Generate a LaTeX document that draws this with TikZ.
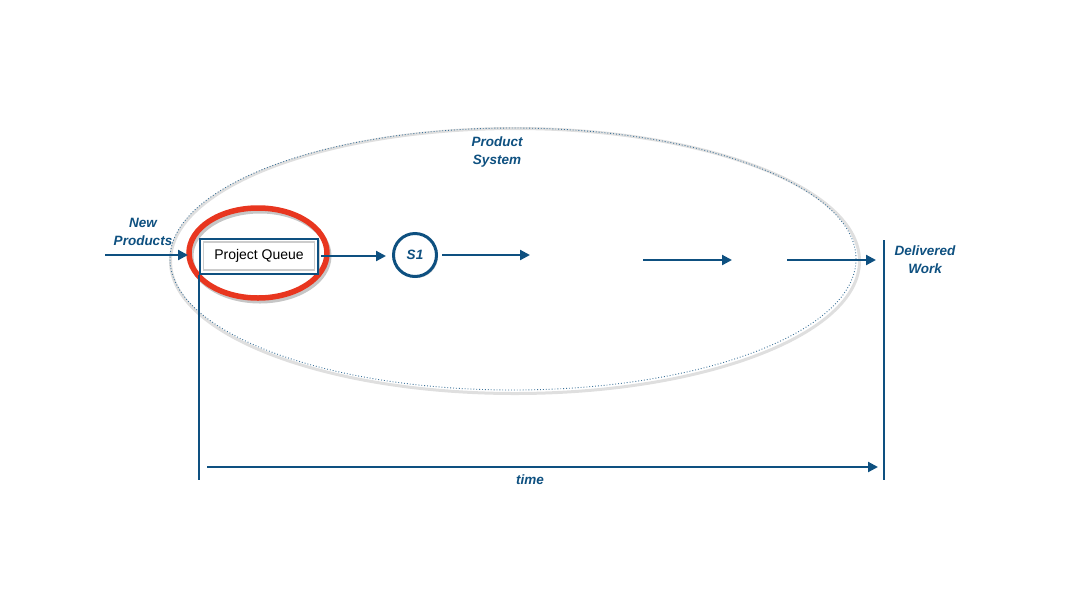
\documentclass[tikz,border=0pt]{standalone}
\usepackage{fontspec}
\setmainfont{Liberation Sans}
\usetikzlibrary{arrows.meta,shapes.geometric,shadows}
\definecolor{dblue}{HTML}{0E5080}
\definecolor{redring}{HTML}{E8361F}
\tikzset{
  flow/.style={draw=dblue, line width=2.2pt, -{Triangle[length=10pt,width=10pt]}},
  vline/.style={draw=dblue, line width=2.2pt},
  lbl/.style={text=dblue, font=\fontsize{13.5}{18}\selectfont\bfseries\itshape, align=center, inner sep=0pt},
  shd/.style={drop shadow={opacity=0.35, shadow xshift=1.5pt, shadow yshift=-1.5pt, fill=gray}}
}
\begin{document}
\begin{tikzpicture}[x=1pt,y=-1pt]
\useasboundingbox (0,0) rectangle (1078,606);
% big system ellipse
\node[ellipse, draw=gray!25, line width=3pt, minimum width=689pt, minimum height=265pt, inner sep=0pt] (sysshadow) at (515,261) {};
\node[ellipse, draw=dblue!80, dotted, line width=0.9pt, minimum width=686pt, minimum height=262pt, inner sep=0pt] (sys) at (513,259) {};
\node[lbl] (sysl) at (497,152) {Product\\System};
% red ring shadow and ring
\node[ellipse, draw=gray!45, line width=5pt, minimum width=138pt, minimum height=90pt, inner sep=0pt] (ringshadow) at (260,256) {};
\node[ellipse, draw=redring, line width=5.5pt, minimum width=138pt, minimum height=90pt, inner sep=0pt] (ring) at (258,253) {};
% project queue
\node[draw=dblue, line width=2pt, minimum width=118pt, minimum height=35pt, inner sep=0pt, fill=white, shd,
      font=\fontsize{14}{16}\selectfont] (pq) at (259,256) {Project Queue};
\node[draw=gray!40, line width=1.2pt, minimum width=111pt, minimum height=28pt, inner sep=0pt] (pqin) at (259,256) {};
% S1
\node[circle, draw=dblue, line width=3pt, minimum size=43pt, inner sep=0pt, fill=white, shd,
      text=dblue, font=\fontsize{13.5}{16}\selectfont\bfseries\itshape] (s1) at (415,255) {S1};
% inputs/outputs
\node[lbl] (newp) at (143,232) {New\\Products};
\node[lbl] (dw) at (925,260) {Delivered\\Work};
\node[lbl] (timel) at (530,480) {time};
\coordinate (inS) at (105,255);
\coordinate (inE) at (188,255);
\draw[flow] (inS) -- (inE);
\coordinate (pqE) at (386,256);
\draw[flow] (pq.east) ++(2pt,0) -- (pqE);
\coordinate (a1E) at (530,255);
\draw[flow] (s1.east) ++(4pt,0) -- (a1E);
\coordinate (a2S) at (643,260);
\coordinate (a2E) at (732,260);
\draw[flow] (a2S) -- (a2E);
\coordinate (a3S) at (787,260);
\coordinate (a3E) at (876,260);
\draw[flow] (a3S) -- (a3E);
% time axis
\coordinate (tl) at (199,480);
\coordinate (rt) at (884,240);
\coordinate (rb) at (884,480);
\draw[vline] (pq.south west) -- (tl);
\draw[vline] (rt) -- (rb);
\coordinate (tS) at (207,467);
\coordinate (tE) at (878,467);
\draw[flow] (tS) -- (tE);
\end{tikzpicture}
\end{document}
